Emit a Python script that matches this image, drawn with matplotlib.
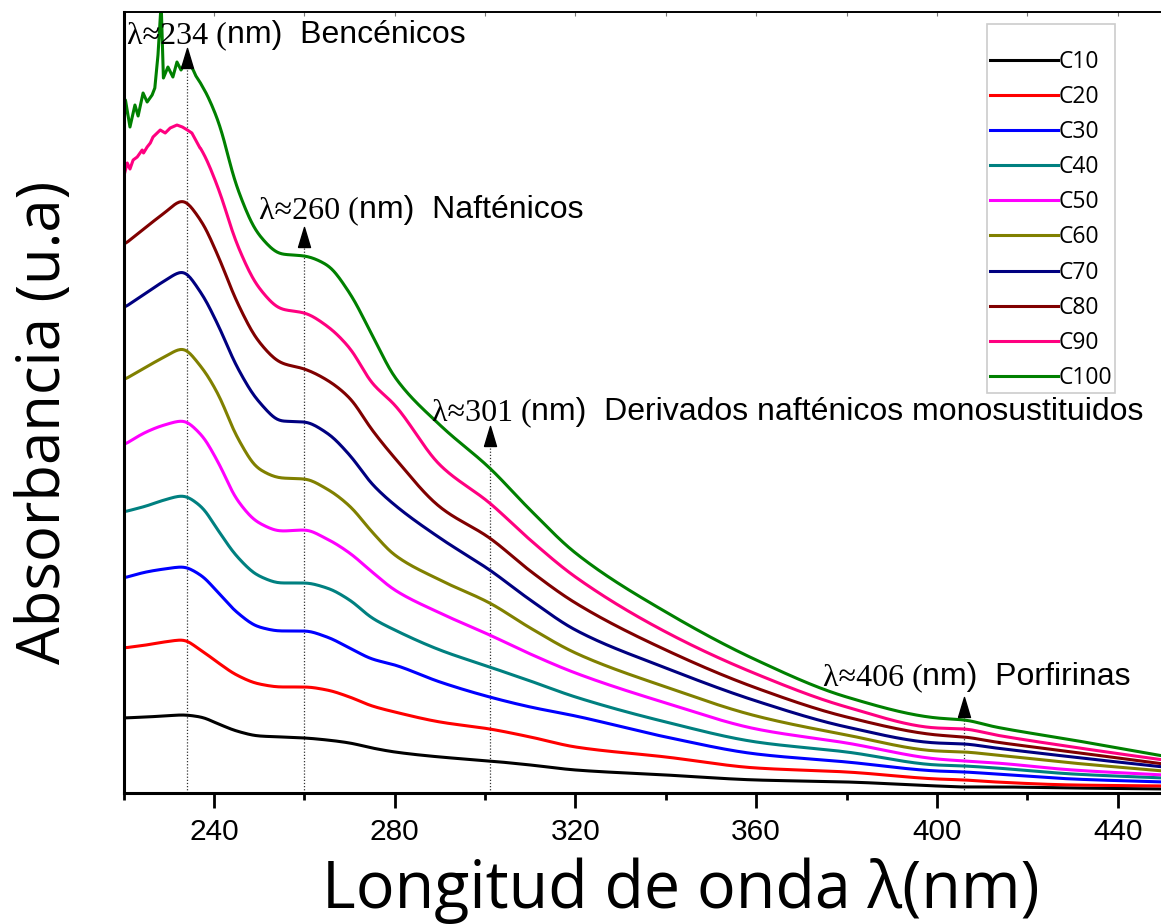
"""
UV-Vis spectra of the C10-C100 fractions, stacked, with the main absorption bands marked
"""
import matplotlib
matplotlib.use('Agg')
import matplotlib.pyplot as plt
import numpy as np
from matplotlib.ticker import MultipleLocator

plt.rcParams['font.family'] = ['Liberation Sans', 'DejaVu Sans']

# wavelength grid (nm) and stacked absorbance (a.u.) of each fraction
wavelength = [220, 225, 229, 233, 237, 241, 245, 250, 255, 260, 265, 270, 275, 280,
              290, 301, 310, 320, 340, 360, 380, 400, 406, 413, 430, 450]

c10 = [0.75, 0.76, 0.77, 0.78, 0.76, 0.69, 0.62, 0.57, 0.56, 0.55, 0.53, 0.50, 0.45,
       0.41, 0.36, 0.32, 0.28, 0.23, 0.18, 0.13, 0.11, 0.07, 0.06, 0.06, 0.05, 0.04]
c20 = [1.45, 1.48, 1.51, 1.53, 1.43, 1.30, 1.18, 1.09, 1.06, 1.06, 1.03, 0.96, 0.87,
       0.81, 0.71, 0.64, 0.56, 0.46, 0.36, 0.25, 0.21, 0.14, 0.13, 0.11, 0.08, 0.07]
c30 = [2.15, 2.21, 2.24, 2.26, 2.18, 2.00, 1.81, 1.66, 1.62, 1.62, 1.56, 1.45, 1.34,
       1.28, 1.11, 0.96, 0.86, 0.77, 0.56, 0.39, 0.31, 0.22, 0.21, 0.19, 0.14, 0.11]
c40 = [2.81, 2.87, 2.93, 2.97, 2.87, 2.62, 2.37, 2.17, 2.10, 2.10, 2.05, 1.93, 1.75,
       1.63, 1.43, 1.26, 1.12, 0.96, 0.71, 0.51, 0.41, 0.28, 0.27, 0.25, 0.19, 0.15]
c50 = [3.48, 3.61, 3.68, 3.72, 3.59, 3.30, 2.94, 2.70, 2.62, 2.63, 2.54, 2.40, 2.21,
       2.03, 1.80, 1.58, 1.39, 1.20, 0.90, 0.64, 0.50, 0.34, 0.32, 0.30, 0.23, 0.18]
c60 = [4.13, 4.26, 4.36, 4.44, 4.27, 3.98, 3.57, 3.24, 3.15, 3.14, 3.04, 2.87, 2.61,
       2.38, 2.13, 1.90, 1.65, 1.40, 1.06, 0.77, 0.58, 0.42, 0.41, 0.38, 0.30, 0.22]
c70 = [4.85, 5.00, 5.12, 5.21, 5.01, 4.67, 4.27, 3.91, 3.72, 3.71, 3.60, 3.38, 3.09,
       2.88, 2.55, 2.23, 1.93, 1.63, 1.25, 0.92, 0.66, 0.50, 0.49, 0.45, 0.36, 0.26]
c80 = [5.48, 5.66, 5.80, 5.92, 5.73, 5.36, 4.92, 4.51, 4.30, 4.24, 4.13, 3.95, 3.63,
       3.35, 2.86, 2.55, 2.22, 1.90, 1.43, 1.05, 0.76, 0.58, 0.56, 0.51, 0.41, 0.29]
c90 = [6.16, 6.35, 6.51, 6.66, 6.45, 6.04, 5.50, 5.05, 4.84, 4.80, 4.67, 4.45, 4.10,
       3.88, 3.28, 2.90, 2.53, 2.16, 1.61, 1.19, 0.86, 0.65, 0.64, 0.58, 0.46, 0.33]
c100 = [6.63, 6.93, 7.13, 7.31, 7.10, 6.71, 6.07, 5.58, 5.39, 5.37, 5.28, 5.00, 4.58,
        4.16, 3.68, 3.25, 2.83, 2.40, 1.81, 1.33, 0.96, 0.75, 0.73, 0.66, 0.53, 0.37]

# the two most concentrated fractions are noisy below 237 nm
c90_start_wl = [220.0, 220.8, 221.4, 222.1, 223.0, 224.1, 224.4, 225.2, 225.9, 226.5,
                227.4, 228.1, 229.2, 230.3, 231.8, 233.0, 234.1, 235.1, 236.9]
c90_start = [6.16, 6.30, 6.24, 6.33, 6.36, 6.43, 6.40, 6.46, 6.50, 6.56,
             6.60, 6.63, 6.60, 6.65, 6.68, 6.66, 6.63, 6.60, 6.45]
c100_start_wl = [220.0, 220.4, 221.4, 222.5, 223.2, 224.3, 225.2, 226.3, 226.9, 227.6,
                 228.3, 228.8, 229.8, 230.9, 231.8, 232.7, 233.7, 234.6, 235.4, 236.0, 237.0]
c100_start = [6.63, 6.93, 6.66, 6.88, 6.77, 7.00, 6.91, 6.98, 7.05, 7.38,
              7.90, 7.15, 7.26, 7.16, 7.31, 7.23, 7.31, 7.29, 7.23, 7.17, 7.10]

series = [c10, c20, c30, c40, c50, c60, c70, c80, c90, c100]
series_names = ['C10', 'C20', 'C30', 'C40', 'C50', 'C60', 'C70', 'C80', 'C90', 'C100']
series_colors = ['#000000', '#ff0000', '#0000ff', '#008080', '#ff00ff',
                 '#808000', '#000080', '#800000', '#ff0080', '#008000']

# marked bands
band_wl = [234, 260, 301, 406]
band_names = ['Bencénicos', 'Nafténicos', 'Derivados nafténicos monosustituidos', 'Porfirinas']


def pchip(x, y, xn):
    """Monotone cubic (Fritsch-Carlson) interpolation."""
    x = np.asarray(x, float)
    y = np.asarray(y, float)
    h = np.diff(x)
    d = np.diff(y) / h
    m = np.zeros_like(y)
    for k in range(1, len(x) - 1):
        if d[k - 1] * d[k] > 0:
            w1 = 2 * h[k] + h[k - 1]
            w2 = h[k] + 2 * h[k - 1]
            m[k] = (w1 + w2) / (w1 / d[k - 1] + w2 / d[k])
    m[0], m[-1] = d[0], d[-1]
    i = np.clip(np.searchsorted(x, xn, side='right') - 1, 0, len(h) - 1)
    t = (xn - x[i]) / h[i]
    return ((2 * t**3 - 3 * t**2 + 1) * y[i] + (t**3 - 2 * t**2 + t) * h[i] * m[i]
            + (-2 * t**3 + 3 * t**2) * y[i + 1] + (t**3 - t**2) * h[i] * m[i + 1])


def smooth_curve(wl, vals, step=0.25, window=2.0):
    x = np.arange(wl[0], wl[-1] + step / 2, step)
    y = pchip(wl, vals, x)
    n = int(window / step) | 1
    y = np.convolve(np.pad(y, n // 2, mode='edge'), np.ones(n) / n, mode='valid')
    return x, y


def create_spectra_figure():
    fig = plt.figure(figsize=(11.61, 9.24), dpi=100)
    ax = fig.add_axes([0.1065, 0.1418, 1 - 0.1065, 0.8452])

    noisy = {'C90': (c90_start_wl, c90_start), 'C100': (c100_start_wl, c100_start)}
    for vals, name, color in zip(series, series_names, series_colors):
        x, y = smooth_curve(wavelength, vals)
        if name in noisy:
            wl0, y0 = noisy[name]
            keep = x > wl0[-1]
            x = np.concatenate([wl0, x[keep]])
            y = np.concatenate([y0, y[keep]])
        ax.plot(x, y, color=color, lw=2.2, label=name)

    ax.set_xlim(220, 449.6)
    ax.set_ylim(0, 7.81)

    # band markers: dotted guide, arrow head and label
    arrow_tip = [7.45, 5.66, 3.66, 0.95]
    text_pos = [(220.75, 7.50), (249.96, 5.75), (288.2, 3.73), (374.7, 1.08)]
    head = [(-3, -5), (3, -5), (0, 5), (-3, -5)]
    renderer = fig.canvas.get_renderer()
    inv = ax.transData.inverted()
    for wl, tip, (tx, ty), name in zip(band_wl, arrow_tip, text_pos, band_names):
        base = tip - 0.19
        ax.plot([wl, wl], [0, base], color='#333333', lw=0.9, ls=(0, (1, 1.5)), zorder=1)
        ax.plot(wl, (tip + base) / 2, marker=head, ms=14.4, color='k', zorder=4)
        t1 = ax.text(tx, ty, f'λ≈{wl} (', fontsize=23, va='baseline',
                     family=['Liberation Serif', 'DejaVu Serif'])
        x_end = inv.transform((t1.get_window_extent(renderer).x1, 0))[0]
        ax.text(x_end, ty, f'nm)  {name}', fontsize=23, va='baseline')

    # axes styling
    ax.xaxis.set_major_locator(MultipleLocator(40))
    ax.xaxis.set_minor_locator(MultipleLocator(20))
    ax.tick_params(axis='x', which='major', length=10.8, width=2, pad=7,
                   labelsize=21.5, direction='out')
    ax.tick_params(axis='x', which='minor', length=5, width=2, direction='out')
    ax.set_yticks([])
    ax.spines['right'].set_visible(False)
    ax.spines['left'].set_linewidth(2.2)
    ax.spines['bottom'].set_linewidth(2.2)
    ax.spines['top'].set_linewidth(1.4)

    top = ax.secondary_xaxis('top')
    top.xaxis.set_major_locator(MultipleLocator(40))
    top.xaxis.set_minor_locator(MultipleLocator(20))
    top.tick_params(which='both', direction='in', length=3, width=0.8,
                    labeltop=False, colors='#777777')
    top.spines['top'].set_visible(False)

    fig.text(681 / 1161, 1 - 908 / 924, 'Longitud de onda λ(nm)', fontsize=46.5,
             ha='center', va='baseline', family=['Open Sans', 'DejaVu Sans'])
    fig.text(44 / 1161, 1 - 422 / 924, 'Absorbancia (u.a)', fontsize=43, rotation=90,
             ha='center', va='center', family=['Open Sans', 'DejaVu Sans'])

    leg = ax.legend(loc='upper left', bbox_to_anchor=(987 / 1161, 1 - 24 / 924),
                    bbox_transform=fig.transFigure, borderaxespad=0,
                    prop={'family': 'Open Sans', 'size': 16.5}, title=' ',
                    title_fontsize=9, handlelength=2.97, handletextpad=0.05,
                    labelspacing=0.485, borderpad=0.12, fancybox=False, framealpha=1)
    leg.get_frame().set_edgecolor('#cccccc')
    leg.get_frame().set_linewidth(1.2)

    fig.savefig('out.png', dpi=100)
    plt.close(fig)


if __name__ == '__main__':
    create_spectra_figure()
